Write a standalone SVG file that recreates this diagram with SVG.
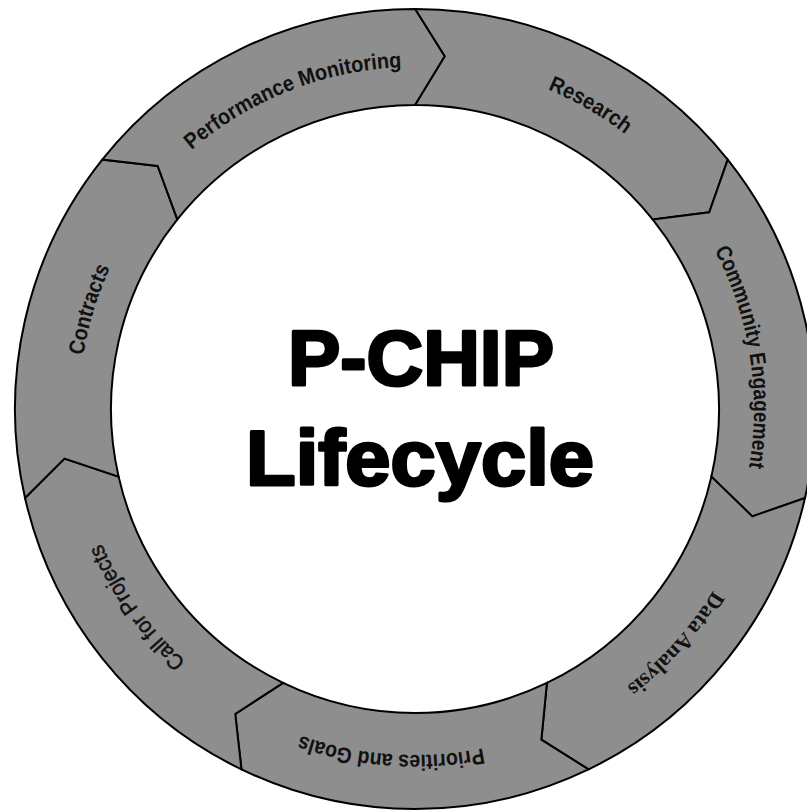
<svg xmlns="http://www.w3.org/2000/svg" width="807" height="811" viewBox="0 0 807 811">
  <style>
    .seg { fill: #8e8e8e; stroke: #000; stroke-width: 2; stroke-linejoin: miter; }
    .lbl { font-family: "Liberation Sans", Arial, sans-serif; font-size: 22px; font-weight: bold; fill: #111; }
    .lbl-reg { font-weight: normal; stroke: #111; stroke-width: 0.5; }
    .lbl-serif { font-family: "Liberation Serif", "Times New Roman", serif; }
    .title { font-family: "Liberation Sans", Arial, sans-serif; font-size: 78px; font-weight: bold; fill: #000; stroke: #000; stroke-width: 3; stroke-linejoin: round; }
  </style>
  <defs>
    <!-- clockwise baseline arcs around centre (415,409), each centred on its label -->
    <path id="arc-perf" d="M 76.76 358.45 A 342 342 0 0 1 627.90 141.35"/>
    <path id="arc-research" d="M 242 109.36 A 346 346 0 0 1 761 409"/>
    <path id="arc-community" d="M 536.49 92.52 A 339 339 0 0 1 628.34 672.45"/>
    <path id="arc-data" d="M 746.92 301.15 A 349 349 0 0 1 342.44 750.37"/>
    <path id="arc-priorities" d="M 701.85 602.48 A 346 346 0 0 1 104.02 560.68"/>
    <path id="arc-call" d="M 447.68 748.43 A 341 341 0 0 1 104.70 267.59"/>
    <path id="arc-contracts" d="M 169.27 638.15 A 336 336 0 0 1 339.42 81.61"/>
  </defs>

  <rect width="807" height="811" fill="#fff"/>

  <g id="research">
    <path class="seg" d="M 415 9 A 400 400 0 0 1 727.73 159.6 L 709.27 212.22 L 652.68 219.46 A 304 304 0 0 0 415 105 L 444.62 56.24 Z"/>
    <text class="lbl"><textPath href="#arc-research" startOffset="50%" text-anchor="middle" textLength="90" lengthAdjust="spacingAndGlyphs">Research</textPath></text>
  </g>

  <g id="community-engagement">
    <path class="seg" d="M 727.73 159.6 A 400 400 0 0 1 804.97 498.01 L 752.33 516.38 L 711.38 476.65 A 304 304 0 0 0 652.68 219.46 L 709.27 212.22 Z"/>
    <text class="lbl"><textPath href="#arc-community" startOffset="50%" text-anchor="middle" textLength="224" lengthAdjust="spacingAndGlyphs">Community Engagement</textPath></text>
  </g>

  <g id="data-analysis">
    <path class="seg" d="M 804.97 498.01 A 400 400 0 0 1 588.55 769.39 L 541.37 739.68 L 546.9 682.89 A 304 304 0 0 0 711.38 476.65 L 752.33 516.38 Z"/>
    <text class="lbl lbl-serif"><textPath href="#arc-data" startOffset="50%" text-anchor="middle" textLength="130" lengthAdjust="spacingAndGlyphs">Data Analysis</textPath></text>
  </g>

  <g id="priorities-and-goals">
    <path class="seg" d="M 588.55 769.39 A 400 400 0 0 1 241.45 769.39 L 235.25 713.99 L 283.1 682.89 A 304 304 0 0 0 546.9 682.89 L 541.37 739.68 Z"/>
    <text class="lbl"><textPath href="#arc-priorities" startOffset="50%" text-anchor="middle" textLength="185" lengthAdjust="spacingAndGlyphs">Priorities and Goals</textPath></text>
  </g>

  <g id="call-for-projects">
    <path class="seg" d="M 241.45 769.39 A 400 400 0 0 1 25.03 498.01 L 64.49 458.62 L 118.62 476.65 A 304 304 0 0 0 283.1 682.89 L 235.25 713.99 Z"/>
    <text class="lbl lbl-reg"><textPath href="#arc-call" startOffset="50%" text-anchor="middle" textLength="146" lengthAdjust="spacingAndGlyphs">Call for Projects</textPath></text>
  </g>

  <g id="contracts">
    <path class="seg" d="M 25.03 498.01 A 400 400 0 0 1 102.27 159.6 L 157.67 165.9 L 177.32 219.46 A 304 304 0 0 0 118.62 476.65 L 64.49 458.62 Z"/>
    <text class="lbl"><textPath href="#arc-contracts" startOffset="50%" text-anchor="middle" textLength="92" lengthAdjust="spacingAndGlyphs">Contracts</textPath></text>
  </g>

  <g id="performance-monitoring">
    <path class="seg" d="M 102.27 159.6 A 400 400 0 0 1 415 9 L 444.62 56.24 L 415 105 A 304 304 0 0 0 177.32 219.46 L 157.67 165.9 Z"/>
    <text class="lbl"><textPath href="#arc-perf" startOffset="50%" text-anchor="middle" textLength="230" lengthAdjust="spacingAndGlyphs">Performance Monitoring</textPath></text>
  </g>

  <g id="title">
    <text class="title" x="421" y="385" text-anchor="middle" textLength="266" lengthAdjust="spacingAndGlyphs">P-CHIP</text>
    <text class="title" x="420" y="485" text-anchor="middle" textLength="348" lengthAdjust="spacingAndGlyphs">Lifecycle</text>
  </g>
</svg>
